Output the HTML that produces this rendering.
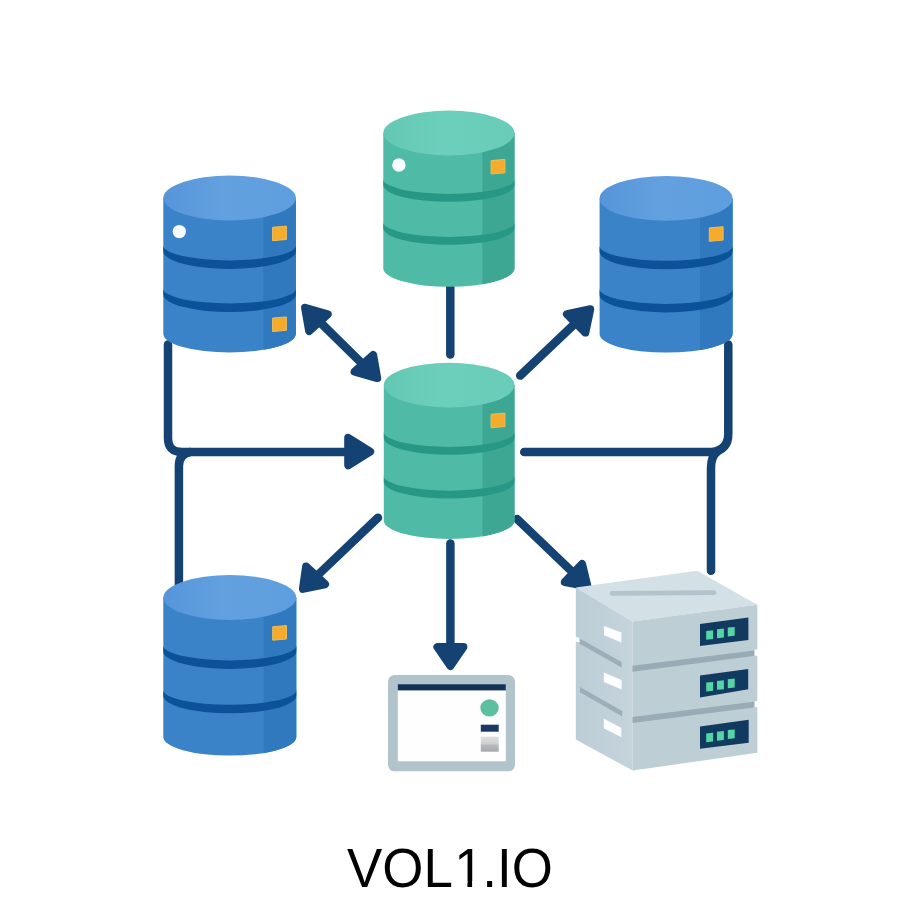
<!DOCTYPE html>
<html lang="en">
<head>
<meta charset="utf-8">
<title>VOL1.IO</title>
<style>
html,body{margin:0;padding:0;background:#fff;}
body{width:900px;height:900px;overflow:hidden;position:relative;font-family:"Liberation Sans",sans-serif;}
svg{position:absolute;left:0;top:0;display:block;}
.label{position:absolute;left:0;top:838.7px;width:900px;height:60px;text-align:center;font-size:52.9px;line-height:60px;color:#000;white-space:nowrap;transform:scale(1,1.042);transform-origin:50% 49.5px;}
.one{display:inline-block;position:relative;left:1.2px;clip-path:polygon(0 0,100% 0,100% 42.6px,17.98px 42.6px,17.98px 100%,13.3px 100%,13.3px 42.6px,0 42.6px);}
</style>
</head>
<body>
<svg width="900" height="900" viewBox="0 0 900 900">
<defs>
<linearGradient id="bt" x1="0" y1="0" x2="1" y2="0"><stop offset="0" stop-color="#5695d9"/><stop offset="0.45" stop-color="#62a0df"/><stop offset="1" stop-color="#5f9ede"/></linearGradient>
<linearGradient id="gt" x1="0" y1="0" x2="1" y2="0"><stop offset="0" stop-color="#63c8b3"/><stop offset="0.45" stop-color="#6ccfbb"/><stop offset="1" stop-color="#68ccb8"/></linearGradient>
<linearGradient id="lf" x1="0" y1="0" x2="1" y2="0"><stop offset="0" stop-color="#bccdd6"/><stop offset="1" stop-color="#c5d4db"/></linearGradient>
<linearGradient id="gg" x1="0" y1="0" x2="0" y2="1"><stop offset="0" stop-color="#dcdedf"/><stop offset="0.45" stop-color="#cfd1d2"/><stop offset="0.6" stop-color="#b4b8ba"/><stop offset="1" stop-color="#a6aaac"/></linearGradient>
</defs>
<path d="M450.3,280 V354.6" fill="none" stroke="#144272" stroke-width="8.5" stroke-linecap="round" stroke-linejoin="round"/>
<path d="M168,344.5 V438 Q168,452 182,452 H350" fill="none" stroke="#144272" stroke-width="8.5" stroke-linecap="round" stroke-linejoin="round"/>
<path d="M178.9,590 V466 Q178.9,454 190,452" fill="none" stroke="#144272" stroke-width="8.5" stroke-linecap="round" stroke-linejoin="round"/>
<path d="M370.2,451.6 L348.2,465.35 L348.2,437.85 Z" fill="#144272" stroke="#144272" stroke-width="8" stroke-linejoin="round"/>
<path d="M524.2,452 H712 Q728.3,450 728.3,434 V344.5" fill="none" stroke="#144272" stroke-width="8.5" stroke-linecap="round" stroke-linejoin="round"/>
<path d="M711,570.7 V468 Q711,456 718,451" fill="none" stroke="#144272" stroke-width="8.5" stroke-linecap="round" stroke-linejoin="round"/>
<path d="M319.5,321.64 L362.8,364.26" fill="none" stroke="#144272" stroke-width="8.5" stroke-linecap="round" stroke-linejoin="round"/>
<path d="M305.07,307.78 L327.74,314.29 L309.15,331.01 Z" fill="#144272" stroke="#144272" stroke-width="8" stroke-linejoin="round"/>
<path d="M377.23,378.12 L354.56,371.61 L373.15,354.89 Z" fill="#144272" stroke="#144272" stroke-width="8" stroke-linejoin="round"/>
<path d="M520.2,375.6 L575.69,322.92" fill="none" stroke="#144272" stroke-width="8.5" stroke-linecap="round" stroke-linejoin="round"/>
<path d="M590.27,309.23 L585.33,332.56 L566.94,314.18 Z" fill="#144272" stroke="#144272" stroke-width="8" stroke-linejoin="round"/>
<path d="M378,517.7 L316.49,576.28" fill="none" stroke="#144272" stroke-width="8.5" stroke-linecap="round" stroke-linejoin="round"/>
<path d="M302.93,588.88 L306.08,566.49 L325.07,584.25 Z" fill="#144272" stroke="#144272" stroke-width="8" stroke-linejoin="round"/>
<path d="M450.4,543.6 L450.4,647" fill="none" stroke="#144272" stroke-width="8.5" stroke-linecap="round" stroke-linejoin="round"/>
<path d="M450.4,666 L437.4,647 L463.4,647 Z" fill="#144272" stroke="#144272" stroke-width="8" stroke-linejoin="round"/>
<path d="M517.1,519 L573.43,572.95" fill="none" stroke="#144272" stroke-width="8.5" stroke-linecap="round" stroke-linejoin="round"/>
<path d="M587.51,586.43 L564.78,581.97 L582.07,563.92 Z" fill="#144272" stroke="#144272" stroke-width="8" stroke-linejoin="round"/>
<g>
<path d="M163.3,198 L163.3,333.8 A66.3,18.6 0 0 0 295.9,333.8 L295.9,198 Z" fill="#3a83c9"/>
<path d="M263.41,198 L263.41,349.8 A66.3,18.6 0 0 0 295.9,333.8 L295.9,198 Z" fill="#3079bf"/>
<path d="M163.3,245.6 A66.3,14.8 0 0 0 295.9,245.6 L295.9,251.4 A66.3,17.5 0 0 1 163.3,251.4 Z" fill="#0b529a"/>
<path d="M163.3,288.7 A66.3,14.8 0 0 0 295.9,288.7 L295.9,294.5 A66.3,17.5 0 0 1 163.3,294.5 Z" fill="#0b529a"/>
<ellipse cx="229.6" cy="198" rx="66.3" ry="22.4" fill="url(#bt)"/>
<path d="M272.6,227.3 l13.8,-1.2 v13.4 l-13.8,1.2 Z" fill="#f5ab2b" stroke="#efbd58" stroke-width="1" stroke-linejoin="round"/>
<path d="M272.6,318.1 l13.8,-1.2 v13.4 l-13.8,1.2 Z" fill="#f5ab2b" stroke="#efbd58" stroke-width="1" stroke-linejoin="round"/>
<circle cx="179.3" cy="231.6" r="6.7" fill="#f6fcff"/>
</g>
<g>
<path d="M383.3,133 L383.3,268.2 A65.6,18.6 0 0 0 514.5,268.2 L514.5,133 Z" fill="#4fbaa6"/>
<path d="M482.36,133 L482.36,284.2 A65.6,18.6 0 0 0 514.5,268.2 L514.5,133 Z" fill="#3da794"/>
<path d="M383.3,179.2 A65.6,14.8 0 0 0 514.5,179.2 L514.5,185 A65.6,16.8 0 0 1 383.3,185 Z" fill="#279886"/>
<path d="M383.3,222.2 A65.6,14.8 0 0 0 514.5,222.2 L514.5,228 A65.6,16.8 0 0 1 383.3,228 Z" fill="#279886"/>
<ellipse cx="448.9" cy="133" rx="65.6" ry="22.4" fill="url(#gt)"/>
<path d="M491.1,160.6 l13.8,-1.2 v13.4 l-13.8,1.2 Z" fill="#f5ab2b" stroke="#efbd58" stroke-width="1" stroke-linejoin="round"/>
<circle cx="398.9" cy="165" r="6.7" fill="#f6fcff"/>
</g>
<g>
<path d="M599.6,198.4 L599.6,334 A66.5,18.6 0 0 0 732.6,334 L732.6,198.4 Z" fill="#3a83c9"/>
<path d="M700.01,198.4 L700.01,350 A66.5,18.6 0 0 0 732.6,334 L732.6,198.4 Z" fill="#3079bf"/>
<path d="M599.6,246 A66.5,14.8 0 0 0 732.6,246 L732.6,251.8 A66.5,17.5 0 0 1 599.6,251.8 Z" fill="#0b529a"/>
<path d="M599.6,289.1 A66.5,14.8 0 0 0 732.6,289.1 L732.6,294.9 A66.5,17.5 0 0 1 599.6,294.9 Z" fill="#0b529a"/>
<ellipse cx="666.1" cy="198.4" rx="66.5" ry="22.4" fill="url(#bt)"/>
<path d="M709.3,227.9 l13.8,-1.2 v13.4 l-13.8,1.2 Z" fill="#f5ab2b" stroke="#efbd58" stroke-width="1" stroke-linejoin="round"/>
</g>
<g>
<path d="M383.8,385.1 L383.8,520.4 A65.35,18.6 0 0 0 514.5,520.4 L514.5,385.1 Z" fill="#4fbaa6"/>
<path d="M482.48,385.1 L482.48,536.4 A65.35,18.6 0 0 0 514.5,520.4 L514.5,385.1 Z" fill="#3da794"/>
<path d="M383.8,432.1 A65.35,14.8 0 0 0 514.5,432.1 L514.5,437.9 A65.35,16.8 0 0 1 383.8,437.9 Z" fill="#279886"/>
<path d="M383.8,475.9 A65.35,14.8 0 0 0 514.5,475.9 L514.5,481.7 A65.35,16.8 0 0 1 383.8,481.7 Z" fill="#279886"/>
<ellipse cx="449.15" cy="385.1" rx="65.35" ry="22.4" fill="url(#gt)"/>
<path d="M491.1,414.3 l13.8,-1.2 v13.4 l-13.8,1.2 Z" fill="#f5ab2b" stroke="#efbd58" stroke-width="1" stroke-linejoin="round"/>
</g>
<g>
<path d="M163.3,597.5 L163.3,737 A66.5,18.6 0 0 0 296.3,737 L296.3,597.5 Z" fill="#3a83c9"/>
<path d="M263.72,597.5 L263.72,753 A66.5,18.6 0 0 0 296.3,737 L296.3,597.5 Z" fill="#3079bf"/>
<path d="M163.3,645.6 A66.5,14.8 0 0 0 296.3,645.6 L296.3,651.4 A66.5,17.5 0 0 1 163.3,651.4 Z" fill="#0b529a"/>
<path d="M163.3,690 A66.5,14.8 0 0 0 296.3,690 L296.3,695.8 A66.5,17.5 0 0 1 163.3,695.8 Z" fill="#0b529a"/>
<ellipse cx="229.8" cy="597.5" rx="66.5" ry="22.4" fill="url(#bt)"/>
<path d="M272.7,626.8 l13.8,-1.2 v13.4 l-13.8,1.2 Z" fill="#f5ab2b" stroke="#efbd58" stroke-width="1" stroke-linejoin="round"/>
</g>
<g>
<rect x="388" y="675" width="127" height="96.3" rx="6.5" fill="#b1c4cc"/>
<rect x="397.8" y="684.2" width="108" height="77.1" fill="#fefefe"/>
<rect x="397.8" y="684.2" width="108" height="6.2" fill="#12325a"/>
<ellipse cx="489.5" cy="707.8" rx="9.2" ry="8.6" fill="#5cc0a0"/>
<rect x="480.8" y="724.7" width="17.9" height="7" fill="#1a3962"/>
<rect x="480.8" y="736.7" width="17.9" height="15" fill="url(#gg)"/>
</g>
<g>
<polygon points="575.8,587.4 697.3,570.8 757.3,604.7 632.5,621.5" fill="#d3e0e6"/>
<polygon points="575.8,587.4 632.5,621.5 632.7,770.6 575.8,739.5" fill="url(#lf)"/>
<polygon points="632.5,621.5 757.3,604.7 757.3,752.7 632.7,770.6" fill="#bdced5"/>
<path d="M612,593.4 L714,592.7" stroke="#b2c3cb" stroke-width="4.7" stroke-linecap="round" fill="none"/>
<polygon points="632.5,665.8 757.3,650 757.3,655.6 632.5,671.800" fill="#99acb6"/>
<polygon points="632.5,717 757.3,701.2 757.3,707 632.5,723" fill="#99acb6"/>
<polygon points="579.3,638.2 621.6,662 621.6,667.4 579.3,643.4" fill="#9cafb9"/>
<polygon points="580,687 622.2,711 622.2,716.4 580,692.2" fill="#9cafb9"/>
<polygon points="575,636.500 579.5,638 579.5,642.5 575,641.500" fill="#fff"/>
<polygon points="604,626 621.4,632.6 621.4,642.6 604,635.3" fill="#fbfdfe"/>
<polygon points="603.8,672.6 621.6,680 621.6,689.6 603.8,682" fill="#fbfdfe"/>
<polygon points="603.8,718.6 621.4,728 621.4,737.3 603.8,728.3" fill="#fbfdfe"/>
<polygon points="700,623.9 748.4,617.6 748.4,640 700,646.1" fill="#123a60"/>
<polygon points="706.2,630.9 713.1,630.2 713.1,639.1 706.2,639.8" fill="#55d5a4"/>
<polygon points="717,629.25 723.9,628.55 723.9,637.45 717,638.15" fill="#55d5a4"/>
<polygon points="727.8,627.6 734.7,626.9 734.7,635.8 727.8,636.5" fill="#55d5a4"/>
<polygon points="700,675.6 748.2,669.1 748.2,689.2 700,697.6" fill="#123a60"/>
<polygon points="706.2,682.6 713.1,681.9 713.1,690.8 706.2,691.5" fill="#55d5a4"/>
<polygon points="717,680.95 723.9,680.25 723.9,689.15 717,689.85" fill="#55d5a4"/>
<polygon points="727.8,679.3 734.7,678.6 734.7,687.5 727.8,688.2" fill="#55d5a4"/>
<polygon points="700,726.4 748.7,719.8 748.7,742.8 700,748.7" fill="#123a60"/>
<polygon points="706.2,733.4 713.1,732.7 713.1,741.6 706.2,742.3" fill="#55d5a4"/>
<polygon points="717,731.75 723.9,731.05 723.9,739.95 717,740.65" fill="#55d5a4"/>
<polygon points="727.8,730.1 734.7,729.4 734.7,738.3 727.8,739" fill="#55d5a4"/>
<polygon points="754.5,649.8 758,649.3 758,655.6 754.5,656" fill="#fff"/>
<polygon points="754.5,701.2 758,700.7 758,707 754.5,707.400" fill="#fff"/>
</g>
</svg>
<div class="label">VOL<span class="one">1</span>.IO</div>
</body>
</html>
